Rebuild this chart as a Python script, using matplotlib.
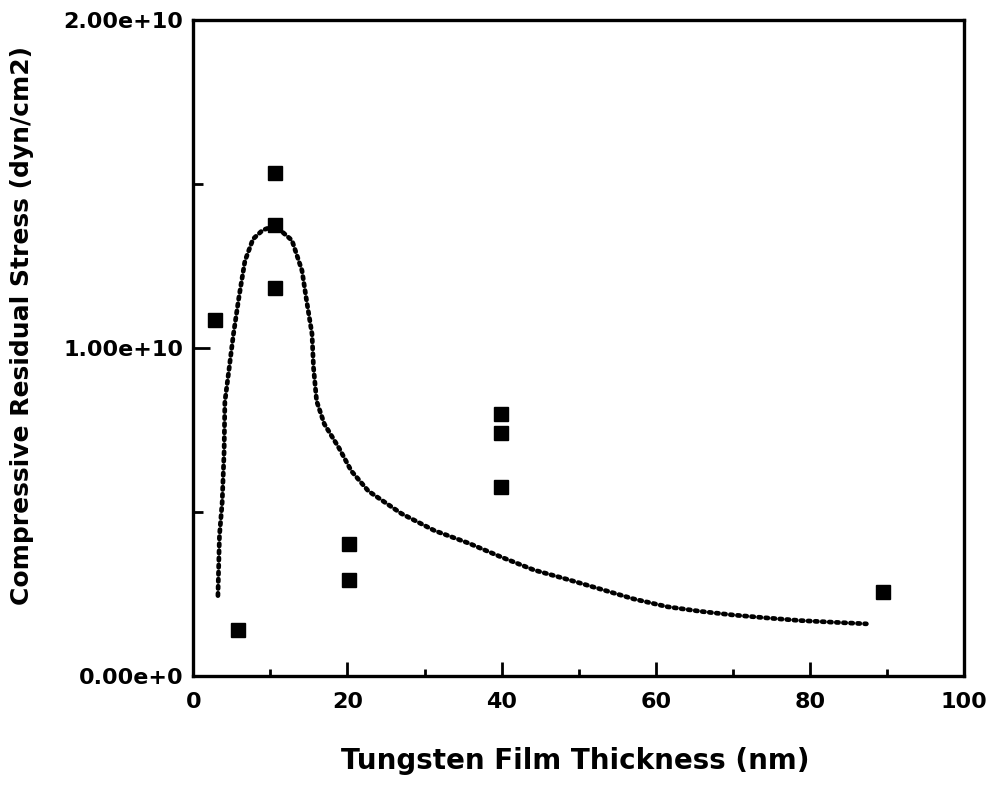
import matplotlib
matplotlib.use("Agg")
import matplotlib.pyplot as plt
import numpy as np
from matplotlib.ticker import MultipleLocator, FixedFormatter, FixedLocator

# measured stress (squares), x in nm, y in 1e9 dyn/cm2
meas_x = [2.8, 5.8, 10.6, 10.6, 10.6, 20.2, 20.2, 39.9, 39.9, 39.9, 89.5]
meas_y = [10.85, 1.42, 15.34, 13.77, 11.84, 4.02, 2.95, 7.99, 7.41, 5.78, 2.58]

# model curve
curve_x = [3.2, 3.4, 3.75, 4.0, 4.1, 4.65, 5.2, 5.9, 6.7, 7.75, 9.0, 10.6,
           12.8, 14.1, 14.7, 15.4, 15.6, 16.0, 17.0, 18.9, 20.5, 22.7, 27.0,
           31.3, 35.7, 39.9, 44.2, 48.6, 52.8, 57.1, 61.5, 65.8, 70.0, 74.4,
           78.7, 82.9, 87.3]
curve_y = [2.46, 4.29, 5.30, 6.84, 8.37, 9.38, 10.41, 11.52, 12.66, 13.33, 13.6, 13.74,
           13.29, 12.37, 11.45, 10.44, 9.40, 8.39, 7.69, 6.96, 6.26, 5.65, 4.96,
           4.44, 4.06, 3.64, 3.24, 2.95, 2.66, 2.36, 2.12, 1.98, 1.87, 1.78,
           1.70, 1.65, 1.60]

ytick_vals = [0, 1e10, 2e10]
ytick_labels = ["0.00e+0", "1.00e+10", "2.00e+10"]
xtick_vals = [0, 20, 40, 60, 80, 100]

fig = plt.figure(figsize=(9.86, 8.09), dpi=100)
ax = fig.add_axes([0.196, 0.164, 0.782, 0.811])

ax.plot(np.array(curve_x), np.array(curve_y) * 1e9, color="black", lw=3.4,
        linestyle=(0, (0.5, 1.0)), dash_capstyle="round", solid_capstyle="round")
ax.plot(np.array(meas_x), np.array(meas_y) * 1e9, "s", color="black", ms=10.5)

ax.set_xlim(0, 100)
ax.set_ylim(0, 2e10)
ax.xaxis.set_major_locator(FixedLocator(xtick_vals))
ax.xaxis.set_minor_locator(MultipleLocator(10))
ax.yaxis.set_major_locator(FixedLocator(ytick_vals))
ax.yaxis.set_major_formatter(FixedFormatter(ytick_labels))
ax.yaxis.set_minor_locator(MultipleLocator(5e9))

for s in ax.spines.values():
    s.set_linewidth(2.4)
ax.tick_params(which="both", direction="in", width=2, labelsize=16)
ax.tick_params(axis="x", which="major", length=10, pad=11)
ax.tick_params(axis="x", which="minor", length=5)
ax.tick_params(axis="y", which="major", length=12, pad=7)
ax.tick_params(axis="y", which="minor", length=7)
for lab in ax.get_xticklabels() + ax.get_yticklabels():
    lab.set_fontweight("bold")

ax.set_xlabel("Tungsten Film Thickness (nm)", fontsize=20, fontweight="bold",
              family="DejaVu Sans Condensed")
ax.xaxis.set_label_coords(0.495, -0.108)
ax.set_ylabel("Compressive Residual Stress (dyn/cm2)", fontsize=18, fontweight="bold")
ax.yaxis.set_label_coords(-0.207, 0.535)

plt.savefig("out.png", dpi=100)
